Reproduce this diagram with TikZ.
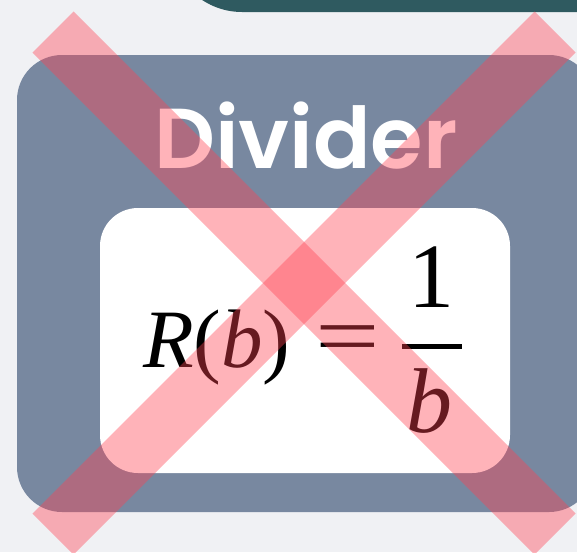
\documentclass[tikz,border=0pt]{standalone}
\usepackage{fontspec}
\newfontfamily\titlefont{Poppins}[UprightFont=* SemiBold]
\newfontfamily\tnr{Liberation Serif}
\definecolor{bgcol}{HTML}{F0F1F4}
\definecolor{tealbar}{HTML}{2F5A60}
\definecolor{slate}{HTML}{7888A0}
\definecolor{xpink}{RGB}{255,65,82}
\tikzset{
  card/.style={fill=slate, rounded corners=45pt},
  panel/.style={fill=white, rounded corners=38pt},
  band/.style={line width=58pt, draw=xpink, draw opacity=0.4, line cap=butt},
  eqtext/.style={inner sep=0pt, outer sep=0pt, font=\tnr\fontsize{83}{90}\selectfont, text=black},
  fractext/.style={inner sep=0pt, outer sep=0pt, font=\tnr\fontsize{92}{100}\selectfont, text=black},
}
\begin{document}
\begin{tikzpicture}[x=1pt,y=-1pt]
\useasboundingbox (0,0) rectangle (577,552);
\clip (0,0) rectangle (577,552);
\fill[bgcol] (0,0) rectangle (577,552);
% top bar
\fill[tealbar, rounded corners=72pt] (170,-100) rectangle (680,12);
% main card
\path[card] (17,55) rectangle (594,512);
\node[inner sep=0pt, anchor=base, text=white, font=\titlefont\fontsize{85}{92}\selectfont] (title) at (306,168) {Divider};
% white panel
\path[panel] (100,208) rectangle (510,473);
% formula
\node[eqtext, anchor=base west] (lhs) at (143,367) {\itshape R\upshape(\itshape b\upshape)};
\node[eqtext, xscale=1.38, yscale=1.05] (eq) at (348,346) {=};
\coordinate (barL) at (402,346);
\coordinate (barR) at (462,346);
\draw[line width=5pt] (barL) -- (barR);
\node[fractext, anchor=base] (num) at (431,307) {1};
\node[fractext, anchor=base] (den) at (429,432) {\itshape b};
% pink cross
\coordinate (a1) at (53,32);
\coordinate (a2) at (555,534);
\coordinate (b1) at (555,32);
\coordinate (b2) at (53,534);
\draw[band] (a1) -- (a2);
\draw[band] (b1) -- (b2);
\end{tikzpicture}
\end{document}
